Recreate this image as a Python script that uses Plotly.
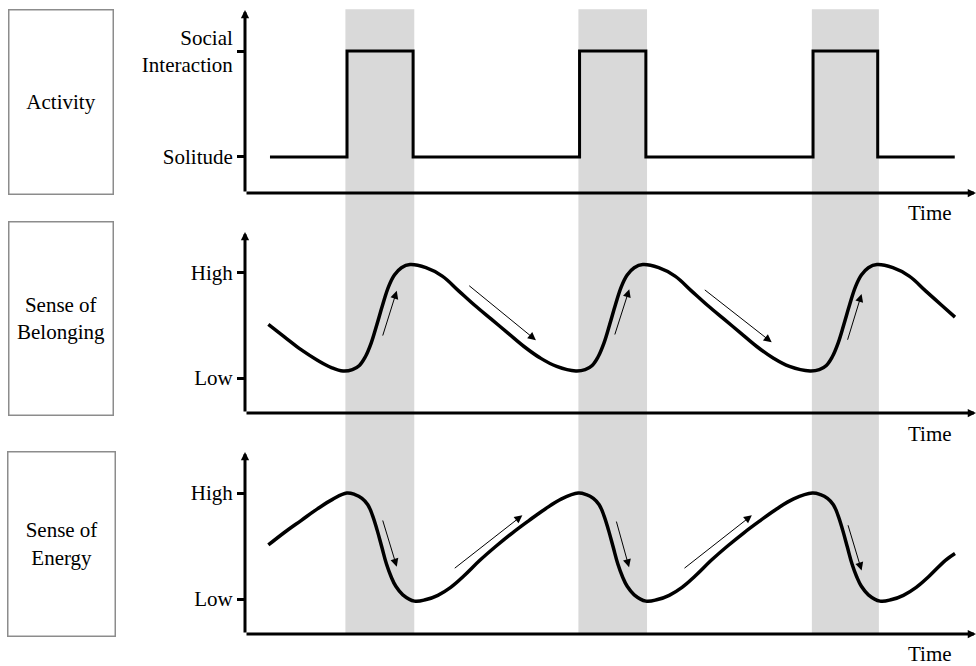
import plotly.graph_objects as go

# ---------------- data ----------------
time_max = 31.31

# shaded "social interaction" periods
band_start = [4.3, 14.28, 24.28]
band_end = [7.25, 17.22, 27.15]

# Activity: 0 = Solitude, 1 = Social Interaction (step function)
activity_t = [1.07, 4.37, 7.2, 14.33, 17.17, 24.33, 27.1, 30.4]
activity_level = [0, 1, 0, 1, 0, 1, 0, 0]
activity_ticks = [0, 1]
activity_ticktext = ["Solitude", "Social<br>Interaction"]

# Sense of Belonging (0 = Low, 1 = High)
belong_t = [1.0, 1.7, 2.4, 3.1, 3.7,
            4.2, 4.6, 4.9, 5.15, 5.4, 5.65, 5.9, 6.15, 6.4, 6.7, 7.07,
            7.75, 8.45, 9.15, 9.85, 10.55, 11.25, 11.95, 12.65, 13.35,
            14.17, 14.57, 14.87, 15.12, 15.37, 15.62, 15.87, 16.12, 16.37, 16.67, 17.04,
            17.72, 18.42, 19.12, 19.82, 20.52, 21.22, 21.92, 22.62, 23.32,
            24.2, 24.6, 24.9, 25.15, 25.4, 25.65, 25.9, 26.15, 26.4, 26.7, 27.07,
            27.75, 28.45, 29.15, 29.85, 30.41]
belong_v = [0.51, 0.39, 0.27, 0.17, 0.10,
            0.067, 0.08, 0.12, 0.20, 0.33, 0.51, 0.70, 0.87, 0.98, 1.05, 1.08,
            1.05, 0.97, 0.83, 0.69, 0.56, 0.43, 0.30, 0.19, 0.11,
            0.067, 0.08, 0.12, 0.20, 0.33, 0.51, 0.70, 0.87, 0.98, 1.05, 1.08,
            1.05, 0.97, 0.83, 0.69, 0.56, 0.43, 0.30, 0.19, 0.11,
            0.067, 0.08, 0.12, 0.20, 0.33, 0.51, 0.70, 0.87, 0.98, 1.05, 1.08,
            1.05, 0.97, 0.83, 0.69, 0.58]

# Sense of Energy (0 = Low, 1 = High)
energy_t = [1.0, 1.7, 2.4, 3.1, 3.75,
            4.36, 4.71, 5.01, 5.26, 5.46, 5.66, 5.86, 6.06, 6.26, 6.46, 6.76, 7.26,
            7.76, 8.26, 8.81, 9.36, 10.06, 10.76, 11.46, 12.16, 12.86, 13.56,
            14.27, 14.62, 14.92, 15.17, 15.37, 15.57, 15.77, 15.97, 16.17, 16.37, 16.67, 17.17,
            17.67, 18.17, 18.72, 19.27, 19.97, 20.67, 21.37, 22.07, 22.77, 23.5,
            24.3, 24.65, 24.95, 25.2, 25.4, 25.6, 25.8, 26.0, 26.2, 26.4, 26.7, 27.2,
            27.7, 28.2, 28.75, 29.3, 30.0, 30.41]
energy_v = [0.51, 0.63, 0.74, 0.85, 0.94,
            1.0, 0.985, 0.95, 0.89, 0.79, 0.65, 0.49, 0.33, 0.21, 0.12, 0.04, -0.02,
            -0.005, 0.035, 0.11, 0.215, 0.365, 0.50, 0.625, 0.74, 0.85, 0.945,
            1.0, 0.985, 0.95, 0.89, 0.79, 0.65, 0.49, 0.33, 0.21, 0.12, 0.04, -0.02,
            -0.005, 0.035, 0.11, 0.215, 0.365, 0.50, 0.625, 0.74, 0.85, 0.945,
            1.0, 0.985, 0.95, 0.89, 0.79, 0.65, 0.49, 0.33, 0.21, 0.12, 0.04, -0.02,
            -0.005, 0.035, 0.11, 0.215, 0.365, 0.43]
level_ticks = [0, 1]
level_ticktext = ["Low", "High"]

# trend arrows: (tail_t, tail_v, head_t, head_v)
belong_arrows = [(5.88, 0.39, 6.5, 0.83), (9.54, 0.89, 12.46, 0.36),
                 (15.82, 0.40, 16.46, 0.845), (19.63, 0.85, 22.56, 0.34),
                 (25.79, 0.35, 26.41, 0.80)]
energy_arrows = [(5.88, 0.755, 6.5, 0.305), (8.92, 0.28, 11.88, 0.79),
                 (15.89, 0.745, 16.45, 0.30), (18.76, 0.28, 21.71, 0.79),
                 (25.81, 0.71, 26.41, 0.27)]

panel_labels = ["Activity", "Sense of<br>Belonging", "Sense of<br>Energy"]
axis_title = "Time"

# ---------------- figure ----------------
W, H = 976, 666
LM = 245
PW = W - LM
FONT = "'Liberation Serif', 'Times New Roman', Times, serif"
FS = 21


def py(p):
    return 1 - p / H


def pxp(p):
    return (p - LM) / PW


ranges = [[-0.34, 1.387], [-0.333, 1.39], [-0.33, 1.387]]
domains = [[py(193), py(10)], [py(413), py(232)], [py(634), py(452)]]

fig = go.Figure()
fig.add_trace(go.Scatter(x=activity_t, y=activity_level, mode="lines",
                         line=dict(shape="hv", color="black", width=3),
                         xaxis="x", yaxis="y", hoverinfo="skip"))
fig.add_trace(go.Scatter(x=belong_t, y=belong_v, mode="lines",
                         line=dict(shape="spline", smoothing=1.1, color="black", width=3.5),
                         xaxis="x", yaxis="y2", hoverinfo="skip"))
fig.add_trace(go.Scatter(x=energy_t, y=energy_v, mode="lines",
                         line=dict(shape="spline", smoothing=1.1, color="black", width=3.5),
                         xaxis="x", yaxis="y3", hoverinfo="skip"))

tickfont = dict(family=FONT, size=FS, color="black")
layout = dict(
    width=W, height=H,
    margin=dict(l=LM, r=0, t=0, b=0),
    paper_bgcolor="white", plot_bgcolor="rgba(0,0,0,0)",
    showlegend=False,
    font=dict(family=FONT, size=FS, color="black"),
    xaxis=dict(range=[0, time_max], domain=[0, 1], visible=False, anchor="y3"),
)
ticksets = [(activity_ticks, activity_ticktext), (level_ticks, level_ticktext),
            (level_ticks, level_ticktext)]
for i in range(3):
    nm = "yaxis" if i == 0 else f"yaxis{i+1}"
    tv, tt = ticksets[i]
    layout[nm] = dict(domain=domains[i], range=ranges[i], anchor="x",
                      tickvals=tv, ticktext=tt, ticks="outside", ticklen=7,
                      tickwidth=3, tickcolor="black", showgrid=False,
                      zeroline=False, showline=False, tickfont=tickfont,
                      fixedrange=True)
    layout[f"yaxis{i+4}"] = dict(overlaying="y" if i == 0 else f"y{i+1}",
                                 range=ranges[i], anchor="x", side="left",
                                 tickvals=tv, ticks="inside", ticklen=7,
                                 tickwidth=3, tickcolor="black",
                                 showticklabels=False, showgrid=False,
                                 zeroline=False, showline=False)
fig.update_layout(**layout)

shapes = []
for s, e in zip(band_start, band_end):
    shapes.append(dict(type="rect", xref="x", yref="paper", x0=s, x1=e,
                       y0=py(634), y1=py(9.3), fillcolor="rgb(217,217,217)",
                       line=dict(width=0), layer="below"))
fig.update_layout(shapes=shapes)

ann = []
yrefs = ["y", "y2", "y3"]
for i in range(3):
    r0, r1 = ranges[i]
    ann.append(dict(xref="x", yref=yrefs[i], axref="x", ayref=yrefs[i],
                    x=time_max, y=r0, ax=0, ay=r0, text="", showarrow=True,
                    arrowhead=2, arrowsize=0.55, arrowwidth=3, arrowcolor="black"))
    ann.append(dict(xref="x", yref=yrefs[i], axref="x", ayref=yrefs[i],
                    x=0, y=r1, ax=0, ay=r0, text="", showarrow=True,
                    arrowhead=2, arrowsize=0.55, arrowwidth=3, arrowcolor="black"))

for yr, arrows in (("y2", belong_arrows), ("y3", energy_arrows)):
    for (t0, v0, t1, v1) in arrows:
        ann.append(dict(xref="x", yref=yr, axref="x", ayref=yr,
                        x=t1, y=v1, ax=t0, ay=v0, text="", showarrow=True,
                        arrowhead=2, arrowsize=1.6, arrowwidth=1, arrowcolor="black"))

boxes = [(8, 9.3, 114, 195), (8, 221, 114, 416), (7, 451, 116, 637)]
for (x0, y0, x1, y1), lab in zip(boxes, panel_labels):
    ann.append(dict(xref="paper", yref="paper", x=pxp((x0 + x1) / 2),
                    y=py((y0 + y1) / 2), xanchor="center", yanchor="middle",
                    text=lab, showarrow=False, width=(x1 - x0) - 3,
                    height=(y1 - y0) - 3, borderpad=0, borderwidth=1.5,
                    bordercolor="#8c8c8c", bgcolor="white",
                    font=dict(family=FONT, size=FS, color="black")))

for yc in (213, 434, 654):
    ann.append(dict(xref="paper", yref="paper", x=pxp(954), y=py(yc),
                    xanchor="right", yanchor="middle", text=axis_title,
                    showarrow=False, font=dict(family=FONT, size=FS, color="black")))

fig.update_layout(annotations=ann)
fig.write_html("out.html",
               config={"displayModeBar": False, "staticPlot": True},
               post_script="document.body.style.margin='0';"
                           "document.body.style.overflow='hidden';")
